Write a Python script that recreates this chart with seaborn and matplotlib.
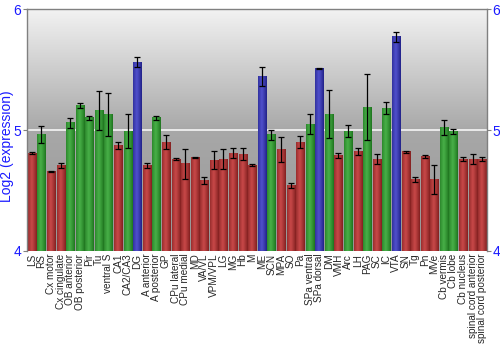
import numpy as np
import pandas as pd
import matplotlib
matplotlib.use("Agg")
import matplotlib.pyplot as plt
import seaborn as sns
from matplotlib.colors import to_rgb

regions = [
    "LS", "RS", "Cx motor", "Cx cingulate", "OB anterior", "OB posterior", "Pir", "Tu",
    "ventral S", "CA1", "CA2/CA3", "DG", "A anterior", "A posterior", "GP", "CPu lateral",
    "CPu medial", "MD", "VA/VL", "VPM/VPL", "LG", "MG", "Hb", "M", "ME", "SCN", "MPA",
    "SO", "Pa", "SPa ventral", "SPa dorsal", "DM", "VMH", "Arc", "LH", "PAG", "SC", "IC",
    "VTA", "SN", "Tg", "Pn", "MVe", "Cb vermis", "Cb lobe", "Cb nucleus",
    "spinal cord anterior", "spinal cord posterior",
]
expression = [
    4.81, 4.96, 4.66, 4.71, 5.06, 5.20, 5.10, 5.16,
    5.13, 4.87, 4.99, 5.56, 4.71, 5.10, 4.90, 4.76,
    4.72, 4.77, 4.58, 4.75, 4.76, 4.81, 4.80, 4.71, 5.44, 4.96, 4.84,
    4.54, 4.90, 5.05, 5.51, 5.13, 4.79, 4.99, 4.82, 5.19, 4.76, 5.18,
    5.77, 4.82, 4.59, 4.78, 4.59, 5.02, 4.99, 4.76,
    4.76, 4.76,
]
error = [
    0.01, 0.07, 0.005, 0.02, 0.04, 0.02, 0.02, 0.16,
    0.18, 0.03, 0.14, 0.04, 0.02, 0.02, 0.06, 0.005,
    0.125, 0.005, 0.03, 0.075, 0.085, 0.04, 0.05, 0.01, 0.08, 0.04, 0.105,
    0.02, 0.05, 0.08, 0.005, 0.20, 0.02, 0.05, 0.03, 0.27, 0.04, 0.05,
    0.04, 0.01, 0.02, 0.01, 0.12, 0.06, 0.02, 0.02,
    0.04, 0.02,
]
level = [
    "low", "mid", "low", "low", "mid", "mid", "mid", "mid",
    "mid", "low", "mid", "high", "low", "mid", "low", "low",
    "low", "low", "low", "low", "low", "low", "low", "low", "high", "mid", "low",
    "low", "low", "mid", "high", "mid", "low", "mid", "low", "mid", "low", "mid",
    "high", "low", "low", "low", "low", "mid", "mid", "low",
    "low", "low",
]

# centre and edge shades for the shaded bars
shades = {
    "low": ("#c84848", "#7a1c1c"),
    "mid": ("#48b048", "#1a6e1a"),
    "high": ("#5050cc", "#1c1c80"),
}
blue_text = "#1a1aff"
y_floor = 4.0

df = pd.DataFrame({"region": regions, "expression": expression,
                   "error": error, "level": level})

sns.set_theme(style="white")
plt.rcParams["font.family"] = ["Liberation Sans", "DejaVu Sans"]

fig = plt.figure(figsize=(5, 3.5), dpi=100)
ax = fig.add_axes([0.054, 0.283, 0.920, 0.691])

palette = {k: v[0] for k, v in shades.items()}
sns.barplot(data=df, x="region", y="expression", hue="level", palette=palette,
            dodge=False, width=0.84, legend=False, ax=ax, errorbar=None)

n = len(regions)
ax.set_ylim(y_floor, 6)
ax.set_xlim(-0.5, n - 0.5)

# vertical grey gradient behind the bars
ny = 256
t = np.linspace(0, 1, ny)[:, None]  # 0 at bottom, 1 at top
top_c = np.array(to_rgb("#f2f2f2"))
mid_c = np.array(to_rgb("#a8a8a8"))
bot_c = np.array(to_rgb("#969696"))
grad = np.where(t >= 0.5,
                mid_c + (top_c - mid_c) * ((t - 0.5) / 0.5),
                bot_c + (mid_c - bot_c) * (t / 0.5))
bg = np.repeat(grad[:, None, :], 2, axis=1).reshape(ny, 2, 3)
ax.imshow(bg, extent=[-0.5, n - 0.5, y_floor, 6], origin="lower",
          aspect="auto", zorder=0, interpolation="bilinear")
ax.axhline(5, color="#f0f0f0", lw=1.3, zorder=0.5)

# horizontal shading inside every bar
nx = 64
u = np.linspace(0, 1, nx)
profile = np.clip(1 - np.abs(u - 0.42) / 0.6, 0, 1) ** 0.8
for patch in list(ax.patches):
    x0 = patch.get_x()
    w = patch.get_width()
    h = patch.get_height()
    if w <= 0 or h <= 0:
        continue
    idx = int(round(x0 + w / 2))
    lv = level[idx]
    c_hi = np.array(to_rgb(shades[lv][0]))
    c_lo = np.array(to_rgb(shades[lv][1]))
    img = (c_lo[None, :] + (c_hi - c_lo)[None, :] * profile[:, None])[None, :, :]
    top = patch.get_y() + h
    ax.imshow(img, extent=[x0, x0 + w, y_floor, top], aspect="auto",
              zorder=2, interpolation="bilinear")
    patch.set_visible(False)

ax.set_xlim(-0.5, n - 0.5)
ax.set_ylim(y_floor, 6)

ax.errorbar(np.arange(n), df.expression, yerr=df.error, fmt="none",
            ecolor="black", elinewidth=0.9, capsize=2.2, capthick=0.9, zorder=3)

# axes styling
for side in ["left", "top", "right"]:
    ax.spines[side].set_color("#808080")
    ax.spines[side].set_linewidth(1.0)
ax.spines["bottom"].set_visible(False)

ax.set_yticks([4, 5, 6])
ax.tick_params(axis="y", which="both", left=True, right=True, labelleft=True,
               labelright=True, length=3, width=0.8, color="#808080",
               labelcolor=blue_text, labelsize=10, pad=1)
ax.set_xticks(range(n))
ax.set_xticklabels(regions, rotation=90, fontsize=7.2)
ax.tick_params(axis="x", length=0, pad=2)
ax.set_xlabel("")
ax.set_ylabel("Log2 (expression)", color=blue_text, fontsize=10)
ax.yaxis.set_label_coords(-0.029, 0.435)

fig.savefig("out.png", dpi=100)
